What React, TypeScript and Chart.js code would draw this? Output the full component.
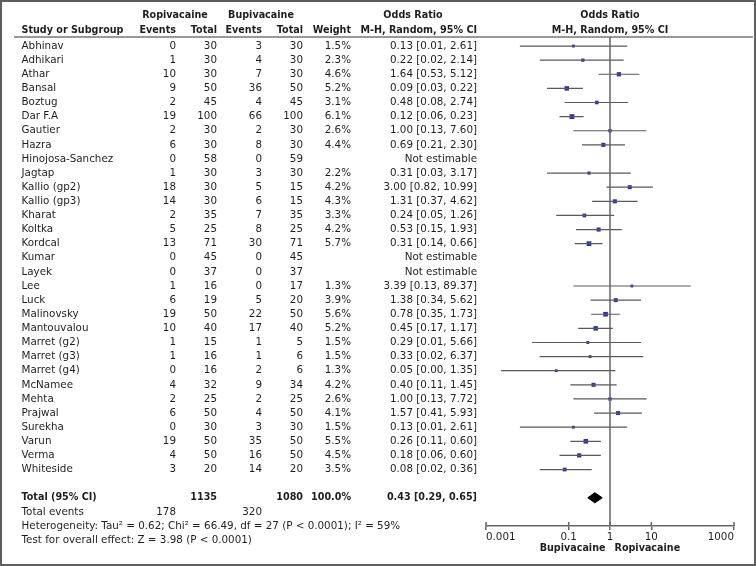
import React, { useEffect, useRef } from 'react';
import { Chart, registerables } from 'chart.js';

Chart.register(...registerables);

// ---------------- data ----------------
const studies = [
  'Abhinav', 'Adhikari', 'Athar', 'Bansal', 'Boztug', 'Dar F.A', 'Gautier', 'Hazra',
  'Hinojosa-Sanchez', 'Jagtap', 'Kallio (gp2)', 'Kallio (gp3)', 'Kharat', 'Koltka',
  'Kordcal', 'Kumar', 'Layek', 'Lee', 'Luck', 'Malinovsky', 'Mantouvalou', 'Marret (g2)',
  'Marret (g3)', 'Marret (g4)', 'McNamee', 'Mehta', 'Prajwal', 'Surekha', 'Varun', 'Verma',
  'Whiteside',
];
const ropEvents = [0, 1, 10, 9, 2, 19, 2, 6, 0, 1, 18, 14, 2, 5, 13, 0, 0, 1, 6, 19, 10, 1, 1, 0, 4, 2, 6, 0, 19, 4, 3];
const ropTotal = [30, 30, 30, 50, 45, 100, 30, 30, 58, 30, 30, 30, 35, 25, 71, 45, 37, 16, 19, 50, 40, 15, 16, 16, 32, 25, 50, 30, 50, 50, 20];
const bupEvents = [3, 4, 7, 36, 4, 66, 2, 8, 0, 3, 5, 6, 7, 8, 30, 0, 0, 0, 5, 22, 17, 1, 1, 2, 9, 2, 4, 3, 35, 16, 14];
const bupTotal = [30, 30, 30, 50, 45, 100, 30, 30, 59, 30, 15, 15, 35, 25, 71, 45, 37, 17, 20, 50, 40, 5, 6, 6, 34, 25, 50, 30, 50, 50, 20];
const weights: (number | null)[] = [1.5, 2.3, 4.6, 5.2, 3.1, 6.1, 2.6, 4.4, null, 2.2, 4.2, 4.3, 3.3, 4.2, 5.7, null, null, 1.3, 3.9, 5.6, 5.2, 1.5, 1.5, 1.3, 4.2, 2.6, 4.1, 1.5, 5.5, 4.5, 3.5];
const oddsRatio: (number | null)[] = [0.13, 0.22, 1.64, 0.09, 0.48, 0.12, 1.0, 0.69, null, 0.31, 3.0, 1.31, 0.24, 0.53, 0.31, null, null, 3.39, 1.38, 0.78, 0.45, 0.29, 0.33, 0.05, 0.4, 1.0, 1.57, 0.13, 0.26, 0.18, 0.08];
const ciLow: (number | null)[] = [0.0066, 0.02, 0.53, 0.03, 0.08, 0.06, 0.13, 0.21, null, 0.03, 0.82, 0.37, 0.05, 0.15, 0.14, null, null, 0.13, 0.34, 0.35, 0.17, 0.013, 0.02, 0.0023, 0.11, 0.13, 0.41, 0.0066, 0.11, 0.06, 0.02];
const ciHigh: (number | null)[] = [2.61, 2.14, 5.12, 0.22, 2.74, 0.23, 7.6, 2.3, null, 3.17, 10.99, 4.62, 1.26, 1.93, 0.66, null, null, 89.37, 5.62, 1.73, 1.17, 5.66, 6.37, 1.35, 1.45, 7.72, 5.93, 2.61, 0.6, 0.6, 0.36];

const totalOR = 0.43;
const totalLow = 0.29;
const totalHigh = 0.65;
const totalRopN = 1135;
const totalBupN = 1080;
const totalWeight = '100.0%';
const totalRopEvents = 178;
const totalBupEvents = 320;
const heterogeneityText = 'Heterogeneity: Tau\u00b2 = 0.62; Chi\u00b2 = 66.49, df = 27 (P < 0.0001); I\u00b2 = 59%';
const overallText = 'Test for overall effect: Z = 3.98 (P < 0.0001)';
const axisTicks = [0.001, 0.1, 1, 10, 1000];
const favoursLeft = 'Bupivacaine';
const favoursRight = 'Ropivacaine';
const groupA = 'Ropivacaine';
const groupB = 'Bupivacaine';

// ---------------- layout / style ----------------
const W = 756;
const H = 566;
const FONT = '"DejaVu Sans", sans-serif';
const FS = 10.35;
const FS_BOLD = 9.6;
const TEXT = '#1e1e1e';
const GRAY = '#666666';
const BLUE = '#2f2fa8';
const ROW_MIN = -0.64;
const ROW_MAX = 34;
const TOTAL_ROW = studies.length + 1;
const DIAMOND_HALF = 0.36;

const COL = { study: 21.5, ropEv: 176, ropTot: 217, bupEv: 262, bupTot: 303, weight: 351, or: 477 };

const fmtOR = (o: number, l: number, h: number) => `${o.toFixed(2)} [${l.toFixed(2)}, ${h.toFixed(2)}]`;

function txt(ctx: CanvasRenderingContext2D, s: string, x: number, y: number, align: CanvasTextAlign, bold = false) {
  ctx.font = bold ? `bold ${FS_BOLD}px ${FONT}` : `${FS}px ${FONT}`;
  ctx.textAlign = align;
  ctx.textBaseline = 'middle';
  ctx.fillStyle = TEXT;
  ctx.fillText(s, x, y);
}

const tablePlugin = {
  id: 'forestTable',
  beforeDraw(chart: any) {
    const ctx = chart.ctx as CanvasRenderingContext2D;
    ctx.save();
    ctx.fillStyle = '#ffffff';
    ctx.fillRect(0, 0, chart.width, chart.height);
    ctx.restore();
  },
  afterDraw(chart: any) {
    const ctx = chart.ctx as CanvasRenderingContext2D;
    const ys = chart.scales.y;
    const xs = chart.scales.x;
    const area = chart.chartArea;
    const py = (r: number) => ys.getPixelForValue(r);
    const x1 = xs.getPixelForValue(1);
    ctx.save();

    // outer frame
    ctx.strokeStyle = '#5e5e5e';
    ctx.lineWidth = 2;
    ctx.strokeRect(1, 1, W - 2, H - 2);

    // header rule
    ctx.strokeStyle = '#777777';
    ctx.lineWidth = 1.5;
    ctx.beginPath();
    ctx.moveTo(14, area.top);
    ctx.lineTo(753, area.top);
    ctx.stroke();

    // headers
    const h1 = 15.7;
    const h2 = 30;
    txt(ctx, groupA, 175, h1, 'center', true);
    txt(ctx, groupB, 261, h1, 'center', true);
    txt(ctx, 'Odds Ratio', 413, h1, 'center', true);
    txt(ctx, 'Odds Ratio', x1, h1, 'center', true);
    txt(ctx, 'Study or Subgroup', COL.study, h2, 'left', true);
    txt(ctx, 'Events', COL.ropEv, h2, 'right', true);
    txt(ctx, 'Total', COL.ropTot, h2, 'right', true);
    txt(ctx, 'Events', COL.bupEv, h2, 'right', true);
    txt(ctx, 'Total', COL.bupTot, h2, 'right', true);
    txt(ctx, 'Weight', COL.weight, h2, 'right', true);
    txt(ctx, 'M-H, Random, 95% CI', COL.or, h2, 'right', true);
    txt(ctx, 'M-H, Random, 95% CI', x1, h2, 'center', true);

    // study rows
    studies.forEach((name, i) => {
      const y = py(i);
      txt(ctx, name, COL.study, y, 'left');
      txt(ctx, String(ropEvents[i]), COL.ropEv, y, 'right');
      txt(ctx, String(ropTotal[i]), COL.ropTot, y, 'right');
      txt(ctx, String(bupEvents[i]), COL.bupEv, y, 'right');
      txt(ctx, String(bupTotal[i]), COL.bupTot, y, 'right');
      const w = weights[i];
      if (w != null) txt(ctx, `${w.toFixed(1)}%`, COL.weight, y, 'right');
      const o = oddsRatio[i];
      const l = ciLow[i];
      const h = ciHigh[i];
      txt(ctx, o != null && l != null && h != null ? fmtOR(o, l, h) : 'Not estimable', COL.or, y, 'right');
    });

    // totals
    const yt = py(TOTAL_ROW);
    txt(ctx, 'Total (95% CI)', COL.study, yt, 'left', true);
    txt(ctx, String(totalRopN), COL.ropTot, yt, 'right', true);
    txt(ctx, String(totalBupN), COL.bupTot, yt, 'right', true);
    txt(ctx, totalWeight, COL.weight, yt, 'right', true);
    txt(ctx, fmtOR(totalOR, totalLow, totalHigh), COL.or, yt, 'right', true);
    const ye = py(TOTAL_ROW + 1);
    txt(ctx, 'Total events', COL.study, ye, 'left');
    txt(ctx, String(totalRopEvents), COL.ropEv, ye, 'right');
    txt(ctx, String(totalBupEvents), COL.bupEv, ye, 'right');
    txt(ctx, heterogeneityText, COL.study, py(TOTAL_ROW + 2), 'left');
    txt(ctx, overallText, COL.study, py(TOTAL_ROW + 3), 'left');

    // upper halves of axis ticks
    ctx.strokeStyle = GRAY;
    ctx.lineWidth = 1.5;
    axisTicks.forEach((v) => {
      const px = xs.getPixelForValue(v);
      ctx.beginPath();
      ctx.moveTo(px, area.bottom - 4);
      ctx.lineTo(px, area.bottom);
      ctx.stroke();
    });

    // favours labels
    txt(ctx, favoursLeft, x1 - 4.5, 548, 'right', true);
    txt(ctx, favoursRight, x1 + 4.5, 548, 'left', true);
    ctx.restore();
  },
};

export default function App() {
  const ref = useRef<HTMLCanvasElement | null>(null);
  useEffect(() => {
    document.body.style.margin = '0';
    const canvas = ref.current;
    if (!canvas) return;

    const ciData: any[] = [];
    const pts: any[] = [];
    const radii: number[] = [];
    studies.forEach((_, i) => {
      const o = oddsRatio[i];
      const l = ciLow[i];
      const h = ciHigh[i];
      if (o == null || l == null || h == null) return;
      ciData.push({ x: l, y: i }, { x: h, y: i }, { x: null, y: null });
      pts.push({ x: o, y: i });
      radii.push(1.6 + 0.3 * (weights[i] ?? 0));
    });

    const diamond = [
      { x: totalLow, y: TOTAL_ROW },
      { x: totalOR, y: TOTAL_ROW - DIAMOND_HALF },
      { x: totalHigh, y: TOTAL_ROW },
      { x: totalOR, y: TOTAL_ROW + DIAMOND_HALF },
      { x: totalLow, y: TOTAL_ROW },
    ];

    const chart = new Chart(canvas, {
      type: 'scatter',
      data: {
        datasets: [
          {
            type: 'line',
            data: [{ x: 1, y: ROW_MIN }, { x: 1, y: ROW_MAX }],
            borderColor: GRAY,
            borderWidth: 1.5,
            pointRadius: 0,
          } as any,
          {
            type: 'line',
            data: ciData,
            borderColor: '#5a5a5a',
            borderWidth: 1.2,
            pointRadius: 0,
            spanGaps: false,
          } as any,
          {
            type: 'scatter',
            data: pts,
            pointStyle: 'rect',
            pointRadius: radii,
            backgroundColor: BLUE,
            borderColor: BLUE,
            borderWidth: 0,
          } as any,
          {
            type: 'line',
            data: diamond,
            borderColor: '#000000',
            backgroundColor: '#000000',
            borderWidth: 1,
            pointRadius: 0,
            fill: 'shape',
          } as any,
        ],
      },
      options: {
        responsive: false,
        maintainAspectRatio: false,
        animation: false,
        events: [],
        layout: { padding: { left: 486, right: 22, top: 37, bottom: 0 } },
        plugins: { legend: { display: false }, tooltip: { enabled: false } },
        scales: {
          x: {
            type: 'logarithmic',
            position: 'bottom',
            min: 0.001,
            max: 1000,
            afterBuildTicks: (scale: any) => {
              scale.ticks = axisTicks.map((v) => ({ value: v }));
            },
            afterFit: (scale: any) => {
              scale.height = H - 526;
            },
            grid: {
              display: true,
              drawOnChartArea: false,
              drawTicks: true,
              tickLength: 4,
              color: GRAY,
              lineWidth: 1.5,
            },
            border: { display: true, color: GRAY, width: 1.5 },
            ticks: {
              autoSkip: false,
              maxRotation: 0,
              align: 'inner',
              padding: 1,
              color: TEXT,
              font: { family: FONT, size: FS },
              callback: (v: any) => String(v),
            },
          },
          y: {
            type: 'linear',
            display: false,
            reverse: true,
            min: ROW_MIN,
            max: ROW_MAX,
          },
        },
      },
      plugins: [tablePlugin],
    } as any);
    return () => chart.destroy();
  }, []);

  return (
    <div style={{ width: W, height: H, position: 'relative' }}>
      <canvas ref={ref} width={W} height={H} style={{ display: 'block', width: W, height: H }} />
    </div>
  );
}
